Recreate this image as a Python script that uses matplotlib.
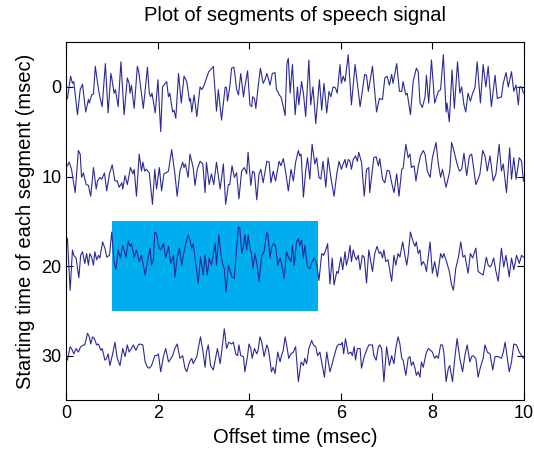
import matplotlib
matplotlib.use("Agg")
import matplotlib.pyplot as plt
from matplotlib.patches import Rectangle

# segment starting times (msec) and signal samples
offsets = [0, 10, 20, 30]

t0 = [0.02, 0.09, 0.13, 0.16, 0.24, 0.30, 0.35, 0.42, 0.48, 0.50, 0.55, 0.59, 0.63, 0.70, 0.73, 0.78,
      0.85, 0.91, 0.97, 0.99, 1.04, 1.07, 1.13, 1.19, 1.26, 1.33, 1.37, 1.39, 1.42, 1.48, 1.55, 1.58,
      1.68, 1.77, 1.81, 1.84, 1.87, 1.94, 2.00, 2.06, 2.10, 2.19, 2.23, 2.26, 2.32, 2.35, 2.39, 2.45,
      2.51, 2.57, 2.63, 2.69, 2.71, 2.74, 2.79, 2.85, 2.92, 2.96, 3.01, 3.11, 3.15, 3.21,
      3.28, 3.32, 3.39, 3.47, 3.50, 3.52, 3.57, 3.61, 3.66, 3.68, 3.72, 3.76, 3.81, 3.87, 3.90, 3.96,
      4.01, 4.05, 4.07, 4.11, 4.14, 4.19, 4.24, 4.30, 4.34, 4.38, 4.41, 4.45, 4.50, 4.56, 4.59, 4.62,
      4.65, 4.69, 4.74, 4.78, 4.82, 4.85, 4.89, 4.94, 5.00, 5.05, 5.08, 5.14, 5.18, 5.23, 5.30, 5.34,
      5.39, 5.45, 5.53, 5.58, 5.63, 5.69, 5.74, 5.78, 5.83, 5.88, 5.92, 5.98, 6.01, 6.05, 6.09, 6.16,
      6.23, 6.31, 6.42, 6.52, 6.56, 6.60,
      6.69, 6.78, 6.84, 6.91, 6.96, 7.01, 7.06, 7.11, 7.14, 7.22, 7.28, 7.33, 7.36, 7.42, 7.45, 7.52,
      7.58, 7.65, 7.69, 7.73, 7.78, 7.84, 7.87, 7.92, 7.98, 8.05, 8.13, 8.18, 8.24, 8.30, 8.32, 8.37,
      8.43, 8.48, 8.55, 8.60, 8.64, 8.69, 8.73, 8.78, 8.83, 8.88, 8.93, 8.98, 9.05, 9.11, 9.17, 9.22,
      9.29, 9.37, 9.42, 9.51, 9.55, 9.61, 9.66, 9.73, 9.78, 9.83, 9.88, 9.91, 9.95, 9.99]
s0 = [-1.3, 1.2, 0.4, 0.6, -3.1, -0.3, 0.3, -2.8, -1.4, -1.8, -0.9, -0.8, 2.3, -0.3, -1.1, -2.2,
      2.6, -2.9, 1.5, 1.0, -0.7, -0.3, -2.2, 2.8, -3.1, 1.0, 0.4, -0.7, 0.2, -2.4, 2.3, 1.7,
      -2.4, 2.2, -0.7, -1.1, -0.7, -2.9, 0.8, -5.0, 0.0, 0.6, -1.1, -0.7, -2.8, -2.6, -3.5, 1.5,
      -1.8, 1.2, 0.6, -1.6, -1.3, -2.8, -0.9, -3.3, 0.0, -0.3, 0.2, 1.7, 1.9, 2.3,
      -2.7, -0.3, -3.7, 0.0, -0.1, -1.6, 0.0, 2.1, 2.2, 1.5, -0.3, -0.9, 1.5, -1.1, 0.0, 1.8,
      -2.0, -2.2, -1.1, -1.3, -2.4, 0.0, 2.1, 0.4, 0.8, 1.5, 1.0, 0.2, 1.5, 1.6, -0.3, -0.5,
      -0.9, -1.1, -2.2, -3.2, 2.6, 3.2, -0.7, 2.5, -3.1, 0.0, -2.0, 0.6, -0.7, -3.3, 3.0, -2.0,
      0.0, -4.1, 0.8, -2.6, 0.4, -2.9, -0.5, -1.1, 0.0, -0.1, -0.7, 2.5, 0.4, 1.2, 0.6, 3.6,
      -2.0, 2.5, -2.2, 1.4, 1.3, -0.5,
      2.3, -2.8, -1.3, -1.4, 1.0, 1.2, 0.2, 1.4, 0.4, 2.6, -0.5, -0.5, 0.6, -0.9, -0.7, -3.1,
      0.6, 2.1, 1.7, -1.8, -2.3, -1.1, 1.3, -1.8, 3.0, -1.8, -0.5, -0.3, 3.6, -2.8, -1.8, -3.9,
      1.9, -2.4, 2.8, -0.7, 0.0, -2.0, -2.8, -0.7, -1.6, -0.7, -0.1, 2.8, -1.8, 2.5, 0.0, 2.3,
      -2.2, 1.3, -1.3, -1.1, 0.4, 1.6, 0.0, 1.7, -0.5, 0.2, -2.0, 0.0, 0.0, -0.7]

t10 = [0.02, 0.06, 0.11, 0.19, 0.26, 0.30, 0.33, 0.37, 0.43, 0.48, 0.53, 0.59, 0.65, 0.68, 0.73, 0.77,
       0.83, 0.88, 0.94, 1.00, 1.06, 1.11, 1.15, 1.21, 1.23, 1.28, 1.33, 1.40, 1.45, 1.48, 1.53, 1.59,
       1.64, 1.67, 1.71, 1.75, 1.81, 1.88, 1.93, 1.97, 2.03, 2.08, 2.13, 2.17, 2.23, 2.30, 2.37, 2.42,
       2.48, 2.54, 2.57, 2.60, 2.66, 2.70, 2.77, 2.81, 2.86, 2.92, 2.98, 3.03, 3.06, 3.12, 3.17, 3.22,
       3.28, 3.36, 3.43, 3.48, 3.54, 3.57, 3.62, 3.67, 3.72, 3.77, 3.83, 3.89, 3.94, 3.97, 4.03, 4.07,
       4.11, 4.16, 4.21, 4.25, 4.30, 4.38, 4.43, 4.47, 4.52, 4.57, 4.65, 4.69, 4.74, 4.79, 4.85, 4.91,
       4.96, 5.01, 5.07, 5.10, 5.13, 5.18, 5.23, 5.27, 5.32, 5.37, 5.43, 5.47, 5.52, 5.56, 5.61, 5.67,
       5.72, 5.78, 5.85, 5.91, 5.96, 6.01, 6.05, 6.09, 6.12, 6.16, 6.20, 6.23, 6.27, 6.32, 6.36, 6.39,
       6.45, 6.51, 6.56, 6.61,
       6.63, 6.72, 6.77, 6.82, 6.85, 6.91, 6.96, 7.01, 7.06, 7.11, 7.16, 7.22, 7.27, 7.33, 7.36, 7.42,
       7.47, 7.51, 7.54, 7.60, 7.64, 7.69, 7.74, 7.80, 7.84, 7.89, 7.95, 8.00, 8.08, 8.13, 8.18, 8.22,
       8.30, 8.38, 8.42, 8.47, 8.53, 8.59, 8.64, 8.69, 8.75, 8.81, 8.86, 8.91, 8.95, 9.00, 9.04, 9.10,
       9.15, 9.20, 9.26, 9.33, 9.39, 9.46, 9.51, 9.55, 9.62, 9.69, 9.73, 9.78, 9.83, 9.90, 9.95, 9.99]
s10 = [1.2, 1.6, 0.8, -1.8, 2.9, 2.5, -0.1, 0.4, -0.9, -1.0, -2.2, 1.0, -1.4, -0.5, -0.1, -0.3,
       0.4, -1.6, 0.3, 1.3, -0.5, -0.5, -1.2, -0.7, -1.4, 0.1, -0.9, 1.0, 0.3, 0.8, -2.2, 2.5,
       0.6, 1.6, 0.6, 0.8, 0.4, -3.1, 0.8, -1.4, 1.0, -1.6, 0.3, 0.4, 0.6, 3.0, 0.3, -2.2,
       0.6, 1.6, 1.0, 1.4, -0.1, 2.5, 1.0, -1.0, 0.8, 1.7, 1.4, -1.8, 1.6, -0.9, 0.3, -0.9,
       1.6, -1.4, 1.4, -3.1, -0.9, -0.9, 1.2, -0.1, 0.4, -2.5, 0.6, 1.0, 0.3, 2.7, -1.0, 0.6,
       0.4, -2.6, 0.3, 0.8, -0.7, 1.7, 1.6, -0.7, 0.6, -0.5, 1.7, 1.2, 2.0, 0.6, -1.6, 0.8,
       -0.5, 1.6, 2.9, 2.3, 2.5, -2.3, 0.6, 2.1, -0.3, 3.6, 1.4, 2.1, -0.1, -0.3, 1.7, -1.2,
       2.1, -0.1, -2.2, 0.3, 1.7, 0.8, 1.4, 1.9, 1.0, 1.9, 1.7, 0.8, 1.9, 2.3, 1.7, 2.7,
       1.6, -2.2, 0.8, 1.0,
       -1.8, 2.1, 2.2, 1.2, 2.0, -0.3, -0.7, 0.7, 0.6, -0.7, -1.8, 0.3, -2.2, 0.8, 0.9, 3.6,
       2.1, 2.5, 1.0, 1.2, -0.5, 1.1, 2.3, 2.9, 2.5, 0.6, -0.1, 2.1, 3.8, 1.4, -0.1, 0.8,
       -1.2, 0.6, 3.8, 2.9, 1.6, 0.6, 0.8, 2.6, 0.1, 2.3, 2.5, 0.6, -0.9, -0.3, 0.3, 2.9,
       2.3, 0.6, 2.3, -0.5, 0.3, 3.6, 0.6, 1.4, -1.8, 3.2, -0.3, 2.1, -0.3, 2.1, 1.7, -0.5]

t20 = [0.02, 0.08, 0.13, 0.16, 0.21, 0.27, 0.31, 0.35, 0.40, 0.44, 0.48, 0.51, 0.55, 0.59, 0.62, 0.66,
       0.70, 0.73, 0.79, 0.84, 0.88, 0.94, 0.99, 1.04, 1.08, 1.13, 1.18, 1.23, 1.26, 1.30, 1.35, 1.39,
       1.42, 1.48, 1.53, 1.59, 1.64, 1.72, 1.77, 1.83, 1.86, 1.90, 1.93, 1.97, 2.01, 2.06, 2.12, 2.17,
       2.23, 2.28, 2.34, 2.37, 2.42, 2.47, 2.52, 2.57, 2.61, 2.66, 2.70, 2.74, 2.77, 2.81, 2.88, 2.93,
       2.99, 3.03, 3.08, 3.12, 3.17, 3.25,
       3.28, 3.33, 3.38, 3.41, 3.45, 3.49, 3.54, 3.57, 3.62, 3.67, 3.72, 3.76, 3.79, 3.83, 3.87, 3.90,
       3.94, 3.97, 4.01, 4.05, 4.08, 4.12, 4.17, 4.21, 4.27, 4.32, 4.38, 4.41, 4.45, 4.48, 4.52, 4.57,
       4.62, 4.67, 4.70, 4.76, 4.81, 4.86, 4.91, 4.94, 4.98, 5.03, 5.07, 5.10, 5.14, 5.18, 5.21, 5.27,
       5.32, 5.37, 5.42, 5.47, 5.52, 5.58, 5.62, 5.67, 5.71, 5.76, 5.81, 5.85, 5.91, 5.94, 6.00, 6.04,
       6.09, 6.12, 6.16, 6.20, 6.23, 6.27, 6.31, 6.34, 6.38, 6.42, 6.47, 6.51, 6.56, 6.61,
       6.69, 6.74, 6.79, 6.84, 6.87, 6.91, 6.94, 6.98, 7.03, 7.11, 7.16, 7.20, 7.25, 7.29, 7.35, 7.40,
       7.44, 7.47, 7.52, 7.58, 7.62, 7.65, 7.69, 7.73, 7.76, 7.80, 7.84, 7.87, 7.95, 8.00, 8.05, 8.11,
       8.18, 8.22, 8.25, 8.31, 8.37, 8.42, 8.46, 8.51, 8.57, 8.62, 8.67, 8.71, 8.78, 8.83, 8.88, 8.95,
       9.00, 9.05, 9.11, 9.18, 9.22, 9.26, 9.29, 9.34, 9.39, 9.44, 9.51, 9.56, 9.61, 9.68, 9.73, 9.78,
       9.84, 9.90, 9.95, 9.99]
s20 = [3.1, -2.7, 1.8, 1.2, 0.9, -1.3, 1.2, 1.6, 0.3, 1.4, 0.1, 1.4, 1.0, 0.1, 1.6, 0.7,
       1.2, 0.9, 2.7, 2.0, 1.0, 1.2, 3.8, 0.5, -0.4, 1.8, 0.9, 2.3, 1.8, 1.0, 2.8, 2.2,
       2.5, 1.0, 1.8, 0.5, 1.2, -1.0, 0.5, 2.0, 0.1, 0.7, 3.8, 3.6, 2.2, 1.8, 2.5, 0.9,
       2.2, 0.3, 1.2, -1.2, 0.9, 2.0, 0.1, 1.6, 2.5, 3.5, 2.9, 2.0, 2.5, 0.9, -1.9, 1.0,
       -1.0, 1.2, -1.0, 0.9, 0.1, 2.5,
       0.1, 3.5, 1.2, 0.3, -0.3, -2.9, 0.1, -0.4, -1.2, -1.4, 2.0, 4.4, 4.2, 1.4, 2.2, 3.5,
       1.8, 3.5, 2.0, 1.2, -0.3, 1.4, 0.1, -1.7, 1.2, 1.6, 3.8, 3.3, 0.9, 2.0, 2.5, 2.3,
       0.1, 0.9, 0.3, -1.4, 1.6, 0.9, 0.5, 2.3, 0.1, 2.7, 3.1, 2.3, 2.9, 0.9, 2.3, -0.1,
       -0.3, 0.5, 0.9, 0.3, -1.6, 1.4, 1.2, 1.8, 2.5, -2.0, 0.9, -2.1, -0.6, -0.8, 1.0, -0.4,
       1.6, 0.1, 0.9, 2.3, 0.5, 1.8, 1.0, 0.7, 1.2, -0.4, 1.2, 1.0, -1.9, 1.8,
       -0.6, 1.4, 2.2, 1.4, 1.6, 0.9, 1.8, 0.5, 0.7, -1.7, 1.2, 0.1, 1.4, 1.0, 2.7, 1.2,
       0.1, 1.2, 3.8, 2.7, 2.2, 2.7, 1.4, 1.8, 0.1, 0.5, 0.1, -0.6, 2.7, -0.8, 0.5, -1.2,
       1.4, 0.9, 1.4, 0.5, -0.6, -2.1, -2.7, -0.3, 1.0, 2.7, 1.0, 1.2, -0.8, 1.4, 0.9, 2.0,
       -0.6, -0.8, -1.0, 1.0, 0.1, -0.1, 0.1, 0.9, -0.6, -1.7, 2.0, -0.1, 1.2, -1.2, 0.9, -0.4,
       1.2, 0.3, 1.2, 1.0]

t30 = [0.02, 0.08, 0.13, 0.16, 0.21, 0.26, 0.31, 0.37, 0.40, 0.46, 0.50, 0.53, 0.57, 0.61, 0.66, 0.70,
       0.75, 0.78, 0.84, 0.88, 0.91, 0.95, 1.01, 1.06, 1.11, 1.17, 1.23, 1.28, 1.33, 1.37, 1.42, 1.46,
       1.52, 1.57, 1.61, 1.67, 1.72, 1.77, 1.81, 1.86, 1.90, 1.93, 1.97, 2.01, 2.06, 2.12, 2.17, 2.23,
       2.26, 2.32, 2.37, 2.42, 2.48, 2.54, 2.59, 2.63, 2.69, 2.74, 2.77, 2.85, 2.88, 2.93, 2.98, 3.03,
       3.06, 3.10, 3.15, 3.21,
       3.30, 3.36, 3.41, 3.45, 3.50, 3.55, 3.61, 3.65, 3.70, 3.74, 3.77, 3.81, 3.87, 3.90, 3.96, 3.99,
       4.03, 4.06, 4.11, 4.16, 4.19, 4.23, 4.27, 4.32, 4.38, 4.41, 4.45, 4.48, 4.52, 4.56, 4.62, 4.67,
       4.70, 4.74, 4.78, 4.81, 4.86, 4.91, 4.96, 5.01, 5.07, 5.13, 5.18, 5.21, 5.25, 5.30, 5.36, 5.40,
       5.45, 5.49, 5.54, 5.58, 5.64, 5.69, 5.76, 5.81, 5.85, 5.91, 5.96, 6.00, 6.03, 6.06, 6.10, 6.16,
       6.22, 6.25, 6.29, 6.32, 6.36, 6.42, 6.45, 6.51, 6.56, 6.61,
       6.69, 6.72, 6.77, 6.82, 6.85, 6.89, 6.94, 7.00, 7.06, 7.11, 7.16, 7.20, 7.25, 7.29, 7.33, 7.36,
       7.42, 7.47, 7.51, 7.54, 7.58, 7.62, 7.65, 7.69, 7.73, 7.76, 7.80, 7.86, 7.91, 7.96, 8.00, 8.05,
       8.09, 8.13, 8.18, 8.22, 8.25, 8.30, 8.35, 8.38, 8.44, 8.49, 8.54, 8.60, 8.66, 8.71, 8.76, 8.82,
       8.86, 8.89, 8.95, 9.00, 9.05, 9.11, 9.15, 9.20, 9.26, 9.32, 9.37, 9.44, 9.51, 9.55, 9.59, 9.64,
       9.68, 9.73, 9.78, 9.84, 9.90, 9.95, 9.99]
s30 = [-0.5, 1.0, 0.6, 0.2, 0.8, 0.4, 1.0, 1.2, 1.2, 2.5, 2.1, 1.3, 2.1, 1.9, 1.2, 1.3,
       0.6, 0.8, -0.5, -0.3, 0.2, -1.1, 0.2, 1.5, -0.3, -1.1, 0.8, -0.1, 1.2, 0.4, 0.8, 1.2,
       0.6, 1.2, 1.3, 1.2, -0.7, -1.3, -1.4, -1.1, -0.5, 0.0, 0.0, 0.2, -1.8, -0.1, 0.8, -0.7,
       -0.5, 0.0, 0.8, 1.3, -0.3, 0.0, -1.4, -1.8, -0.7, -0.3, -0.9, -0.1, 0.8, 2.1, 0.6, -1.3,
       0.4, 1.2, -1.1, -1.6,
       0.8, -0.9, 1.2, 3.0, 0.8, 1.5, 1.3, 1.5, 0.2, 0.0, 1.2, 0.0, -0.1, -1.8, 0.0, 1.3,
       0.8, -0.3, 0.8, 0.2, 0.6, 2.1, 1.5, -0.1, 1.2, 0.8, -0.5, -1.8, -1.3, -2.0, 0.4, -0.7,
       0.0, 0.6, 2.1, 1.3, -0.3, 0.2, 0.4, 1.0, -2.9, -0.7, -1.1, -0.3, -0.9, 0.8, 1.7, 1.2,
       1.0, 0.0, 0.4, -0.7, -2.4, 0.4, -1.8, -0.9, -0.1, 1.0, 1.3, 1.2, 1.5, 0.2, 1.9, 0.2,
       0.4, 0.0, 1.0, -0.5, 0.8, 0.8, -1.4, -0.1, 0.6, 1.2,
       1.2, 0.0, -0.5, 1.0, 1.2, 0.8, -2.9, 1.0, -1.1, 0.0, -0.9, 0.8, 2.1, 1.3, -0.3, -0.5,
       -2.2, -0.3, -0.1, -1.1, -0.7, -1.4, -2.2, -1.8, -2.4, -0.7, -1.3, 0.2, 0.8, 0.6, 0.4, -0.3,
       0.0, -0.3, 1.2, 1.2, 0.4, -2.9, -1.4, -1.1, -2.9, -0.3, 1.9, -0.3, -1.8, 0.0, 1.2, -0.7,
       -0.1, 0.0, -0.3, -2.4, -1.3, -0.3, 1.2, 0.4, 0.2, -1.6, -0.1, -0.1, -0.3, 0.4, 1.5, -0.3,
       -1.8, -0.7, 1.3, 1.2, 0.4, 0.0, -0.3]

times = [t0, t10, t20, t30]
signals = [s0, s10, s20, s30]

# highlighted region (msec)
box_x = (1.0, 5.5)
box_y = (15, 25)

plt.rcParams['font.family'] = ['Liberation Sans', 'DejaVu Sans']

fig = plt.figure(figsize=(5.34, 4.53), dpi=100)
ax = fig.add_axes([0.1245, 0.116, 0.8565, 0.791])

ax.add_patch(Rectangle((box_x[0], box_y[0]), box_x[1] - box_x[0], box_y[1] - box_y[0],
                       facecolor='#00aeef', edgecolor='none', zorder=1))

for off, t, s in zip(offsets, times, signals):
    ax.plot(t, [off - v for v in s], color='#2a2a96', linewidth=0.8, zorder=2)

ax.set_xlim(0, 10)
ax.set_ylim(35, -5)
ax.set_xticks([0, 2, 4, 6, 8, 10])
ax.set_yticks(offsets)
ax.tick_params(direction='in', top=True, right=True, length=5, labelsize=13, width=0.8)
for sp in ax.spines.values():
    sp.set_linewidth(0.8)

ax.set_title('Plot of segments of speech signal', fontsize=14.5, pad=15)
ax.set_xlabel('Offset time (msec)', fontsize=14.5, labelpad=4)
ax.set_ylabel('Starting time of each segment (msec)', fontsize=14.5, labelpad=5)

fig.savefig('out.png', dpi=100)
